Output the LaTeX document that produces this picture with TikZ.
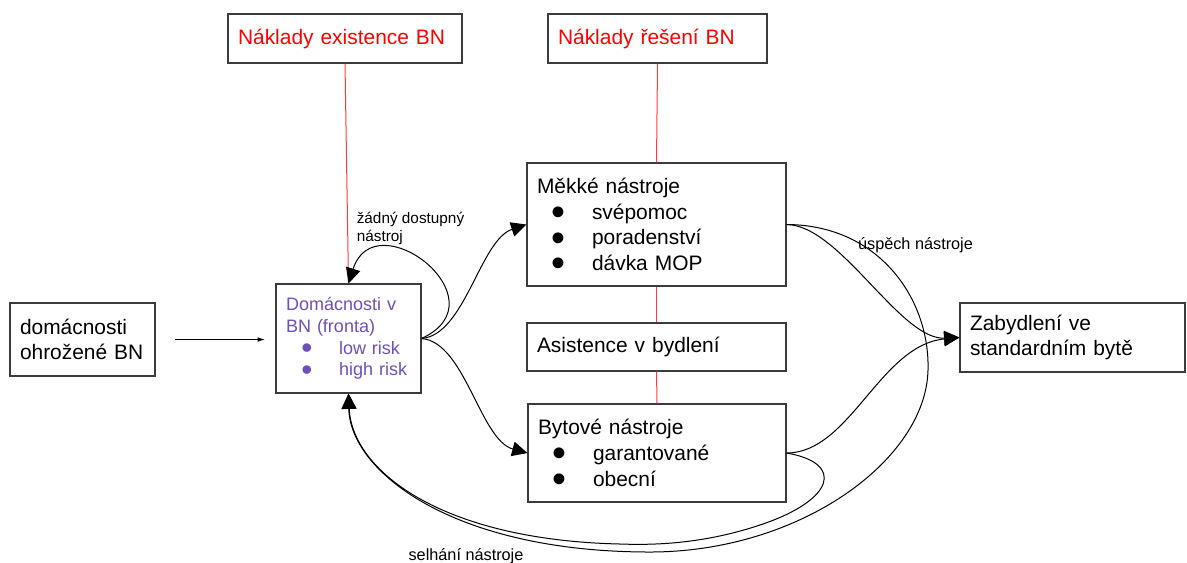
\documentclass[tikz,border=0pt]{standalone}
\usepackage{fontspec}
\usepackage{graphicx}
\setmainfont{Liberation Sans}
\usetikzlibrary{arrows.meta}
\definecolor{purp}{RGB}{112,80,184}
\definecolor{redline}{RGB}{255,60,60}
\definecolor{boxgray}{RGB}{60,60,60}
\newcommand\mainfs{\fontsize{15.7}{19.3}\selectfont}
\newcommand\purpfs{\fontsize{13.5}{16.3}\selectfont}
\newcommand\smallfs{\fontsize{12.2}{14}\selectfont}
\newcommand\tinyfs{\fontsize{11.5}{13.5}\selectfont}
\newcommand\bitem[1]{\makebox[41.25pt][l]{\hspace{15.75pt}\makebox[0pt][c]{\smash{\raisebox{-4.6pt}{\scalebox{1.9}{•}}}}}#1}
\newcommand\pitem[1]{\makebox[39.75pt][l]{\hspace{15.75pt}\makebox[0pt][c]{\smash{\raisebox{-3.4pt}{\scalebox{1.75}{•}}}}}#1}
\begin{document}
\begin{tikzpicture}[x=0.75pt,y=-0.75pt,
  box/.style={draw=boxgray,line width=0.8pt,fill=white,inner xsep=7.5pt,inner ysep=0pt,align=left,font=\mainfs},
  redl/.style={draw=redline,line width=0.75pt},
  conn/.style={draw=black,line width=0.75pt,-{Triangle[length=11.5pt,width=11pt]}},
  lab/.style={inner sep=0pt,align=left}]
\useasboundingbox (0,0) rectangle (1187,562);
% boxes
\node[box,minimum width=108.75pt,minimum height=54.75pt,text width=93.75pt] (ohr) at (82.5,339.5) {domácnosti\\ohrožené BN};
\node[box,minimum width=108.75pt,minimum height=81.75pt,text width=93.75pt,font=\purpfs,text=purp] (dom) at (348.5,338.5) {Domácnosti v\\BN (fronta)\\\pitem{low risk}\\\pitem{high risk}};
\node[box,minimum width=175.5pt,minimum height=36.75pt,text width=160.5pt,text=red] (nex) at (345,38.5) {Náklady existence BN};
\node[box,minimum width=164.25pt,minimum height=36.75pt,text width=149.25pt,text=red] (nre) at (657.5,38.5) {Náklady řešení BN};
\node[box,minimum width=194.25pt,minimum height=92.25pt,text width=179.25pt] (mek) at (656.5,224.5) {Měkké nástroje\\\bitem{svépomoc}\\\bitem{poradenství}\\\bitem{dávka MOP}};
\node[box,minimum width=194.25pt,minimum height=36pt,text width=179.25pt] (asi) at (656.5,347) {Asistence v bydlení};
\node[box,minimum width=193.5pt,minimum height=73.5pt,text width=178.5pt] (byt) at (657,453) {Bytové nástroje\\\bitem{garantované}\\\bitem{obecní}};
\node[box,minimum width=168.75pt,minimum height=51.75pt,text width=153.75pt] (zab) at (1072.5,337.5) {Zabydlení ve\\standardním bytě};
% labels
\node[lab,font=\tinyfs] (l1) at (410.5,228) {žádný dostupný\\nástroj};
\node[lab,font=\smallfs] (l2) at (915.5,245) {úspěch nástroje};
\node[lab,font=\smallfs] (l3) at (466,556) {selhání nástroje};
% red lines
\draw[redl] (nex.south) -- (dom.north);
\draw[redl] (nre.south) -- (mek.north);
\draw[redl] (mek.south) -- (asi.north);
\draw[redl] (asi.south) -- (byt.north);
% small arrow
\coordinate (a1) at (175,339.5);
\coordinate (a2) at (265,339.5);
\draw[line width=0.75pt,-{Latex[length=5.5pt,width=3.5pt]}] (a1) -- (a2);
% connectors
\draw[conn] (dom.east) .. controls (505,300) and (375,200) .. (dom.north);
\draw[conn] (dom.east) .. controls (465,335) and (480,240) .. (mek.west);
\draw[conn] (dom.east) .. controls (465,342) and (480,440) .. (byt.west);
\draw[conn] (mek.east) .. controls (840,225) and (900,340) .. (zab.west);
\draw[conn] (byt.east) .. controls (850,453) and (880,345) .. (zab.west);
\draw[conn] (mek.east) .. controls (880,225) and (930,300) .. (928,370)
   .. controls (926,460) and (800,552) .. (650,552)
   .. controls (450,552) and (350,470) .. (dom.south);
\draw[conn] (byt.east) .. controls (845,463) and (835,500) .. (760,525)
   .. controls (700,545) and (650,545) .. (620,544)
   .. controls (440,540) and (352,470) .. (dom.south);
\end{tikzpicture}
\end{document}
